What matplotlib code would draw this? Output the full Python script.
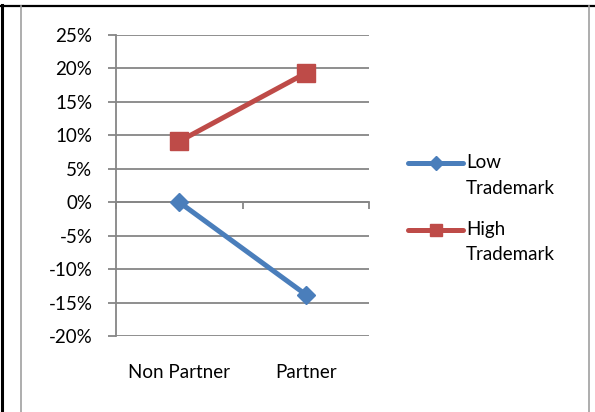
import matplotlib
matplotlib.use("Agg")
import matplotlib.pyplot as plt
from matplotlib.lines import Line2D

plt.rcParams['font.family'] = ['Lato', 'DejaVu Sans']

categories = ['Non Partner', 'Partner']
low_trademark = [0.0, -0.138]
high_trademark = [0.091, 0.193]
y_ticks = [-0.20, -0.15, -0.10, -0.05, 0.0, 0.05, 0.10, 0.15, 0.20, 0.25]
y_labels = ['-20%', '-15%', '-10%', '-5%', '0%', '5%', '10%', '15%', '20%', '25%']
series_names = [['Low', 'Trademark'], ['High', 'Trademark']]

BLUE = '#4A7EBB'
RED = '#BE4B48'
GRID = '#868686'
FS = 13.5
W, H = 595, 412

fig = plt.figure(figsize=(W / 100, H / 100), dpi=100)


def fx(x):
    return x / W


def fy(y):
    return 1 - y / H


# plot area in pixel coordinates
left, right, top, bottom = 116, 369, 35, 336
ax = fig.add_axes([fx(left), fy(bottom), fx(right - left), fy(top) - fy(bottom)])

xs = [0.5, 1.5]
ax.plot(xs, low_trademark, color=BLUE, lw=3.6, marker='D', ms=9.5,
        solid_capstyle='round', zorder=3, clip_on=False)
ax.plot(xs, high_trademark, color=RED, lw=3.6, marker='s', ms=12.5,
        solid_capstyle='round', zorder=3, clip_on=False)

ax.set_xlim(0, 2)
ax.set_ylim(-0.20, 0.25)
ax.set_yticks(y_ticks)
ax.set_yticklabels(y_labels, fontsize=FS)
ax.yaxis.grid(True, color=GRID, lw=1.3)
ax.tick_params(axis='y', direction='out', length=6, width=1.3, color=GRID, pad=11)

for s in ['top', 'right']:
    ax.spines[s].set_visible(False)
ax.spines['left'].set_color(GRID)
ax.spines['left'].set_linewidth(1.3)
ax.spines['bottom'].set_position(('data', 0))
ax.spines['bottom'].set_color(GRID)
ax.spines['bottom'].set_linewidth(1.3)
ax.set_xticks([0, 1, 2])
ax.set_xticklabels([])
ax.tick_params(axis='x', direction='out', length=5, width=1.3, color=GRID)
ax.set_axisbelow(True)

# category labels sit under the plot area, not at the zero line
label_y = -(372 - bottom) / (bottom - top)
for x, name in zip(xs, categories):
    ax.text(x, label_y, name, ha='center', va='center', fontsize=FS,
            transform=ax.get_xaxis_transform(), clip_on=False)

# legend
for (y0, color, marker, ms), lines in zip([(163, BLUE, 'D', 7), (230, RED, 's', 9)], series_names):
    fig.add_artist(Line2D([fx(408), fx(463)], [fy(y0), fy(y0)], color=color, lw=3.6,
                          solid_capstyle='round', transform=fig.transFigure))
    fig.add_artist(Line2D([fx(435.5)], [fy(y0)], color=color, marker=marker, ms=ms,
                          transform=fig.transFigure))
    for i, txt in enumerate(lines):
        fig.text(fx(466), fy(y0 + 25 * i), txt, ha='left', va='center', fontsize=FS)

# outer frame
fig.add_artist(Line2D([0, 1], [fy(5.5), fy(5.5)], color='black', lw=1.6, transform=fig.transFigure))
fig.add_artist(Line2D([fx(2), fx(2)], [0, fy(5)], color='black', lw=2.2, transform=fig.transFigure))
fig.add_artist(Line2D([fx(20.5), fx(20.5)], [0, fy(6)], color='#A0A0A0', lw=1.2, transform=fig.transFigure))
fig.add_artist(Line2D([fx(588.5), fx(588.5)], [0, fy(6)], color='#A0A0A0', lw=1.2, transform=fig.transFigure))

fig.savefig('out.png', dpi=100)
